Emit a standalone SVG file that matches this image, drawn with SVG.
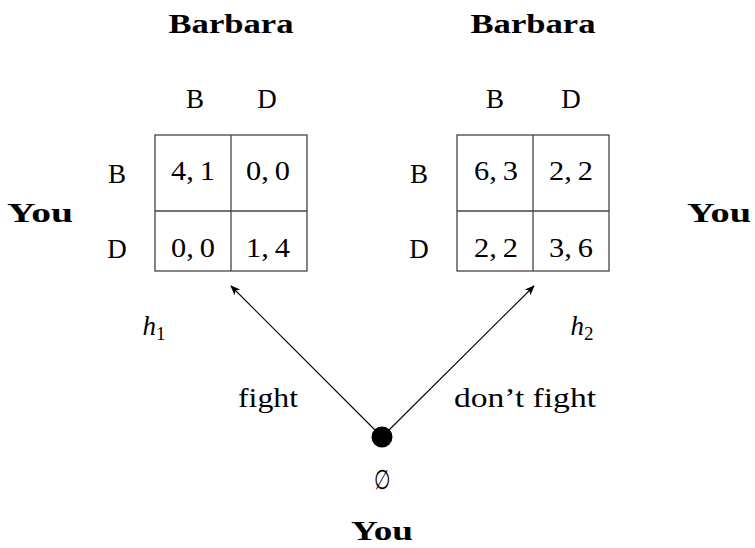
<svg xmlns="http://www.w3.org/2000/svg" width="755" height="548" viewBox="0 0 755 548">
  <defs>
    <marker id="arrow" viewBox="0 0 10 10" refX="9" refY="5" markerWidth="10" markerHeight="10" markerUnits="userSpaceOnUse" orient="auto">
      <path d="M0,1 L10,5 L0,9 L2.5,5 Z" fill="#000"/>
    </marker>
  </defs>
  <style>
    text { font-family: "Liberation Serif", "DejaVu Serif", serif; font-size: 27px; fill: #000; text-anchor: middle; }
    .bold { font-weight: bold; }
    .math { font-style: italic; }
    .grid { fill: none; stroke: #444; stroke-width: 1.3; }
    .edge { stroke: #000; stroke-width: 1.1; fill: none; marker-end: url(#arrow); }
  </style>
  <rect width="755" height="548" fill="#fff"/>

  <!-- player labels -->
  <g id="players">
    <text class="bold" x="231" y="33" textLength="125" lengthAdjust="spacingAndGlyphs">Barbara</text>
    <text class="bold" x="533" y="33" textLength="125" lengthAdjust="spacingAndGlyphs">Barbara</text>
    <text class="bold" x="40" y="222" textLength="66" lengthAdjust="spacingAndGlyphs">You</text>
    <text class="bold" x="719" y="222" textLength="64" lengthAdjust="spacingAndGlyphs">You</text>
    <text class="bold" x="382" y="540" textLength="62" lengthAdjust="spacingAndGlyphs">You</text>
  </g>

  <!-- left game: history h1 -->
  <g id="game-h1">
    <rect class="grid" x="155" y="135" width="152" height="136"/>
    <line class="grid" x1="231" y1="135" x2="231" y2="271"/>
    <line class="grid" x1="155" y1="211" x2="307" y2="211"/>
    <text x="195" y="108">B</text>
    <text x="267" y="108">D</text>
    <text x="117" y="183">B</text>
    <text x="117" y="258">D</text>
    <text x="193" y="180" textLength="44" lengthAdjust="spacingAndGlyphs">4,&#8201;1</text>
    <text x="268" y="180" textLength="44" lengthAdjust="spacingAndGlyphs">0,&#8201;0</text>
    <text x="193" y="257" textLength="44" lengthAdjust="spacingAndGlyphs">0,&#8201;0</text>
    <text x="268" y="257" textLength="44" lengthAdjust="spacingAndGlyphs">1,&#8201;4</text>
    <text class="math" x="154" y="335">h<tspan font-style="normal" font-size="19" dy="5">1</tspan></text>
  </g>

  <!-- right game: history h2 -->
  <g id="game-h2">
    <rect class="grid" x="457" y="135" width="152" height="136"/>
    <line class="grid" x1="533" y1="135" x2="533" y2="271"/>
    <line class="grid" x1="457" y1="211" x2="609" y2="211"/>
    <text x="495" y="108">B</text>
    <text x="571" y="108">D</text>
    <text x="419" y="183">B</text>
    <text x="419" y="258">D</text>
    <text x="496" y="180" textLength="44" lengthAdjust="spacingAndGlyphs">6,&#8201;3</text>
    <text x="571" y="180" textLength="44" lengthAdjust="spacingAndGlyphs">2,&#8201;2</text>
    <text x="496" y="257" textLength="44" lengthAdjust="spacingAndGlyphs">2,&#8201;2</text>
    <text x="571" y="257" textLength="44" lengthAdjust="spacingAndGlyphs">3,&#8201;6</text>
    <text class="math" x="582" y="335">h<tspan font-style="normal" font-size="19" dy="5">2</tspan></text>
  </g>

  <!-- root decision node -->
  <g id="root">
    <circle cx="382" cy="437" r="10.5" fill="#000"/>
    <text x="382" y="489" font-size="31" transform="translate(382 0) scale(0.7 1) translate(-382 0)">∅</text>
  </g>

  <!-- moves -->
  <g id="connectors">
    <line class="edge" x1="375" y1="430" x2="231" y2="286"/>
    <line class="edge" x1="389" y1="430" x2="534" y2="286"/>
    <text x="268" y="407" textLength="60" lengthAdjust="spacingAndGlyphs">fight</text>
    <text x="525" y="407" textLength="142" lengthAdjust="spacingAndGlyphs">don’t fight</text>
  </g>
</svg>
